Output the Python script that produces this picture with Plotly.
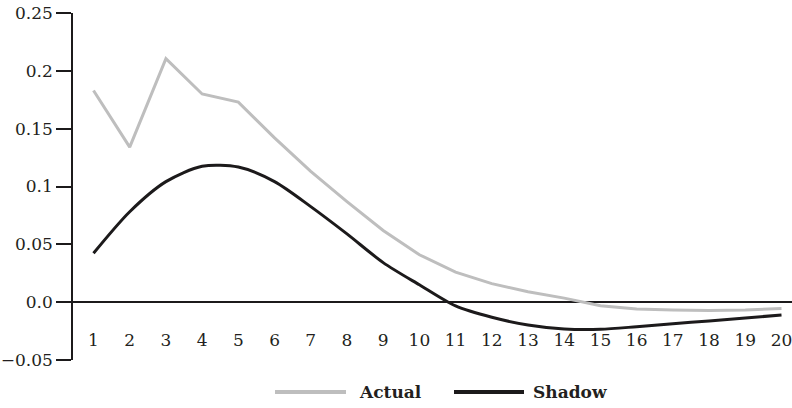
import plotly.graph_objects as go

periods = list(range(1, 21))
actual = [0.183, 0.134, 0.2105, 0.180, 0.173, 0.142, 0.113, 0.087, 0.062, 0.041,
          0.026, 0.016, 0.009, 0.0035, -0.003, -0.0058, -0.0068, -0.0072, -0.0068, -0.0055]
shadow = [0.0423, 0.0782, 0.1042, 0.1175, 0.1168, 0.1042, 0.0826, 0.059, 0.0342, 0.015,
          -0.0033, -0.0131, -0.0197, -0.0232, -0.0235, -0.0212, -0.0186, -0.0163, -0.0137, -0.0111]
y_tickvals = [-0.05, 0.0, 0.05, 0.1, 0.15, 0.2, 0.25]
y_ticktext = ["\u22120.05", "0.0", "0.05", "0.1", "0.15", "0.2", "0.25"]
series_names = ["Actual", "Shadow"]

W, H = 792, 408
# plot area in page pixels: left 73, top 13, bottom 360, right 792
L, T, B, R = 73, 13, H - 360, 0
pw, ph = W - L - R, H - T - B

def px_x(x):
    return (x - L) / pw

def px_y(y):
    return (H - B - y) / ph

GRAY = "#bebebe"
DARK = "#1c1a1b"
TXT = "#231f20"
FONT = "DejaVu Serif"

fig = go.Figure()
fig.add_trace(go.Scatter(x=periods, y=actual, mode="lines", name=series_names[0],
                         line=dict(color=GRAY, width=3)))
fig.add_trace(go.Scatter(x=periods, y=shadow, mode="lines", name=series_names[1],
                         line=dict(color=DARK, width=3, shape="spline", smoothing=0.8)))

fig.update_layout(
    width=W, height=H,
    margin=dict(l=L, r=R, t=T, b=B, pad=0),
    paper_bgcolor="white", plot_bgcolor="white",
    showlegend=False,
    font=dict(family=FONT, size=17, color=TXT),
    xaxis=dict(range=[0.434, 20.29], tickvals=periods, ticktext=[str(p) for p in periods],
               showgrid=False, zeroline=False, showline=False, ticks="", automargin=False,
               ticklabeloverflow="allow",
               anchor="free", position=px_y(328), tickfont=dict(size=17, family=FONT, color=TXT)),
    yaxis=dict(range=[-0.05, 0.25], tickvals=y_tickvals, ticktext=y_ticktext, automargin=False,
               ticklabeloverflow="allow",
               showgrid=False, zeroline=True, zerolinecolor=DARK, zerolinewidth=1.5,
               showline=True, linecolor=DARK, linewidth=1.5,
               ticks="outside", ticklen=15, tickwidth=1.5, tickcolor=DARK,
               tickfont=dict(size=17, family=FONT, color=TXT)),
)

# custom legend
legend_y = px_y(392)
fig.add_shape(type="line", xref="paper", yref="paper", x0=px_x(275), x1=px_x(346),
              y0=legend_y, y1=legend_y, line=dict(color=GRAY, width=4))
fig.add_shape(type="line", xref="paper", yref="paper", x0=px_x(454), x1=px_x(524),
              y0=legend_y, y1=legend_y, line=dict(color=DARK, width=4))
fig.add_annotation(x=px_x(357), y=legend_y, xref="paper", yref="paper", text="<b>Actual</b>",
                   showarrow=False, xanchor="left", yanchor="middle",
                   font=dict(size=17, family=FONT, color=TXT))
fig.add_annotation(x=px_x(531), y=legend_y, xref="paper", yref="paper", text="<b>Shadow</b>",
                   showarrow=False, xanchor="left", yanchor="middle",
                   font=dict(size=17, family=FONT, color=TXT))

fig.write_html("out.html",
               config={"displayModeBar": False},
               post_script="document.body.style.margin='0';document.body.style.overflow='hidden';")
